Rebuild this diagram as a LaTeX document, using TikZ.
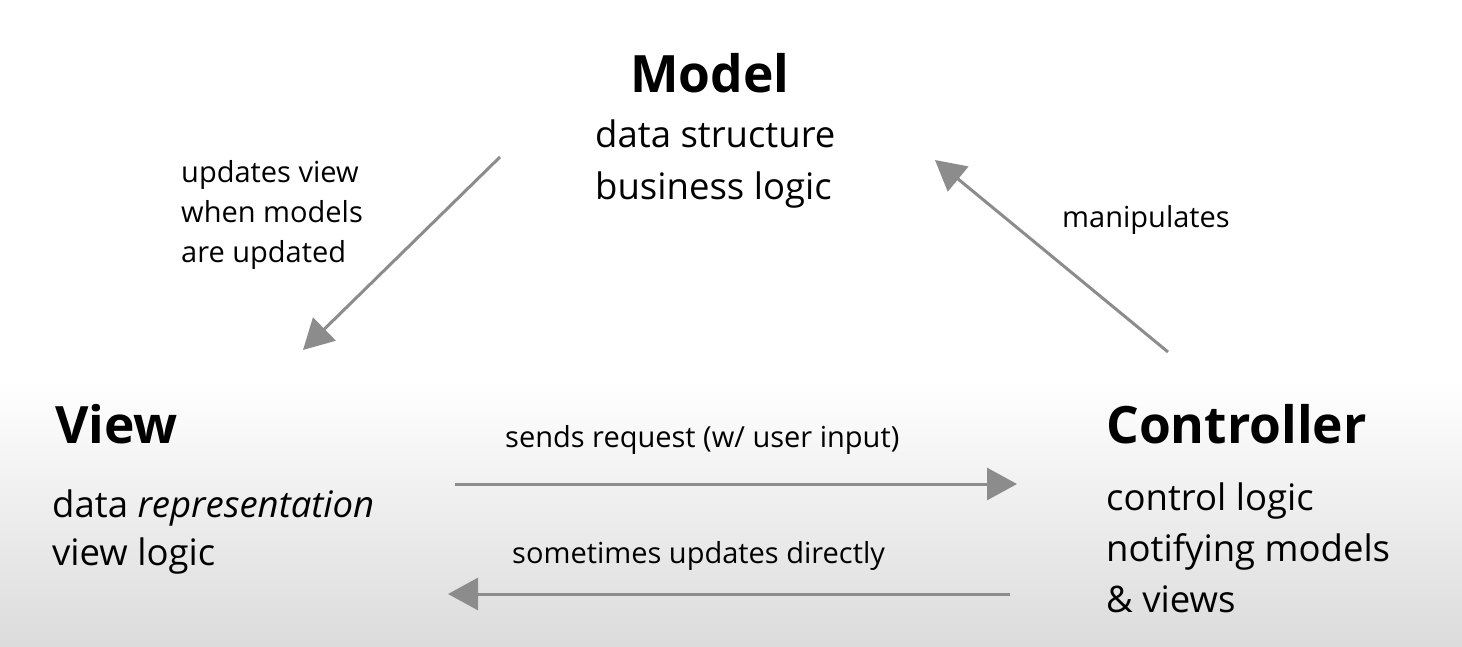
\documentclass[tikz,border=0pt]{standalone}
\usepackage{fontspec}
\setmainfont{Open Sans}
\usetikzlibrary{arrows.meta}
\definecolor{arrowgray}{HTML}{8C8C8C}
\begin{document}
\begin{tikzpicture}[x=1pt,y=-1pt,
  title/.style={inner sep=0pt,anchor=base west,font=\fontsize{51.5}{56}\selectfont\bfseries},
  body/.style={inner sep=0pt,anchor=base west,align=left,font=\fontsize{36.5}{51}\selectfont},
  small/.style={inner sep=0pt,anchor=base west,align=left,font=\fontsize{29}{40}\selectfont},
  conn/.style={draw=arrowgray,line width=3pt,-{Triangle[length=30pt,width=32pt]}}]
\useasboundingbox (0,0) rectangle (1462,647);
\shade[top color=white,bottom color=black!14] (0,380) rectangle (1462,647);
\fill[white] (0,0) rectangle (1462,380);
% Model
\node[title,anchor=base] (mt) at (710,93) {Model};
\node[body,font=\fontsize{36.5}{52}\selectfont] (mb) at (595,200) {data structure\\business logic};
% View
\node[title] (vt) at (55,443) {View};
\node[body,font=\fontsize{36.5}{48}\selectfont] (vb) at (52,565) {data \textit{representation}\\view logic};
% Controller
\node[title] (ct) at (1106,443) {Controller};
\node[body] (cb) at (1106,612) {control logic\\notifying models\\\& views};
% labels
\node[small] (l1) at (181,262) {updates view\\when models\\are updated};
\node[small] (l2) at (1062,228) {manipulates};
\node[small] (l3) at (505,447) {sends request (w/ user input)};
\node[small] (l4) at (512,563) {sometimes updates directly};
% arrow endpoints
\coordinate (a1s) at (500,157); \coordinate (a1e) at (303,350);
\coordinate (a2s) at (1168,352); \coordinate (a2e) at (935,160);
\coordinate (a3s) at (455,484); \coordinate (a3e) at (1017,484);
\coordinate (a4s) at (1010,594); \coordinate (a4e) at (448,594);
\draw[conn] (a1s) -- (a1e);
\draw[conn] (a2s) -- (a2e);
\draw[conn] (a3s) -- (a3e);
\draw[conn] (a4s) -- (a4e);
\end{tikzpicture}
\end{document}
